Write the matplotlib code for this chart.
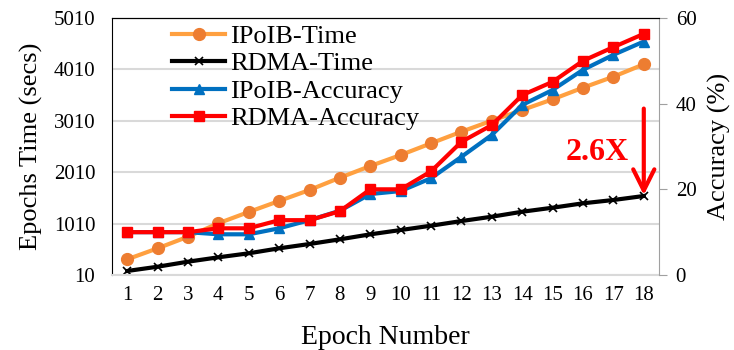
import matplotlib.pyplot as plt
import numpy as np

plt.rcParams['font.family'] = ['Liberation Serif', 'DejaVu Serif']

epochs = list(range(1, 19))
ipoib_time = [315, 529, 755, 1016, 1236, 1450, 1664, 1903, 2130, 2344,
              2572, 2798, 3012, 3220, 3428, 3654, 3868, 4109]
rdma_time = [88, 171, 269, 354, 432, 529, 613, 704, 801, 885,
             969, 1060, 1144, 1241, 1319, 1405, 1469, 1547]
ipoib_acc = [10, 10, 10, 9.5, 9.5, 10.9, 12.8, 15, 18.9, 19.6,
             22.6, 27.6, 32.7, 39.7, 43.2, 47.9, 51.4, 54.5]
rdma_acc = [10, 10, 10, 10.9, 10.9, 12.8, 12.8, 14.9, 20, 20,
            24.2, 31.1, 35.0, 42.0, 45.1, 50.0, 53.2, 56.3]
time_ticks = [10, 1010, 2010, 3010, 4010, 5010]
acc_ticks = [0, 20, 40, 60]

fig, ax = plt.subplots(figsize=(7.34, 3.5), dpi=100)
fig.subplots_adjust(left=0.1526, right=0.8978, top=0.9486, bottom=0.2143)
ax2 = ax.twinx()

l1, = ax.plot(epochs, ipoib_time, color='#FFA040', lw=3, marker='o', ms=8.5,
              mfc='#ED7D31', mec='#ED7D31', label='IPoIB-Time')
l2, = ax.plot(epochs, rdma_time, color='black', lw=3, marker='x', ms=6,
              mew=1.2, label='RDMA-Time')
l3, = ax2.plot(epochs, ipoib_acc, color='#0070C0', lw=3, marker='^', ms=7.5,
               label='IPoIB-Accuracy')
l4, = ax2.plot(epochs, rdma_acc, color='#FF0000', lw=3, marker='s', ms=7.5,
               label='RDMA-Accuracy')

ax.set_xlim(0.5, 18.5)
ax.set_ylim(10, 5010)
ax.set_yticks(time_ticks)
ax.set_xticks(epochs)
ax2.set_ylim(0, 60)
ax2.set_yticks(acc_ticks)

ax.grid(axis='y', color='#D9D9D9', lw=1.5)
ax.set_axisbelow(True)
ax.tick_params(axis='both', length=0, labelsize=15, pad=8)
ax.tick_params(axis='y', pad=12)
ax2.tick_params(axis='y', length=6, color='#A0A0A0', labelsize=15, pad=6)

for s in ['left', 'top']:
    ax.spines[s].set_color('black')
ax.spines['bottom'].set_color('#D9D9D9')
ax.spines['bottom'].set_linewidth(1.5)
ax2.spines['bottom'].set_visible(False)
ax2.spines['right'].set_color('#A0A0A0')
ax2.spines['left'].set_visible(False)
ax.spines['right'].set_visible(False)

ax.set_xlabel('Epoch Number', fontsize=20, labelpad=14)
ax.set_ylabel('Epochs Time (secs)', fontsize=19, labelpad=8)
ax2.set_ylabel('Accuracy (%)', fontsize=19, labelpad=8)

ax2.legend(handles=[l1, l2, l3, l4], loc='upper left', frameon=False,
           fontsize=19, bbox_to_anchor=(0.11, 0.975), handlelength=2.0,
           labelspacing=0.15, handletextpad=0.2, borderaxespad=0,
           borderpad=0)

ax2.annotate('', xy=(18, 18), xytext=(18, 39.5),
             arrowprops=dict(arrowstyle='->', color='#FF0000', lw=3,
                             mutation_scale=38))
ax2.text(16.45, 28.5, '2.6X', color='#FF0000', fontsize=23, fontweight='bold',
         ha='center', va='center')

plt.savefig('out.png')
